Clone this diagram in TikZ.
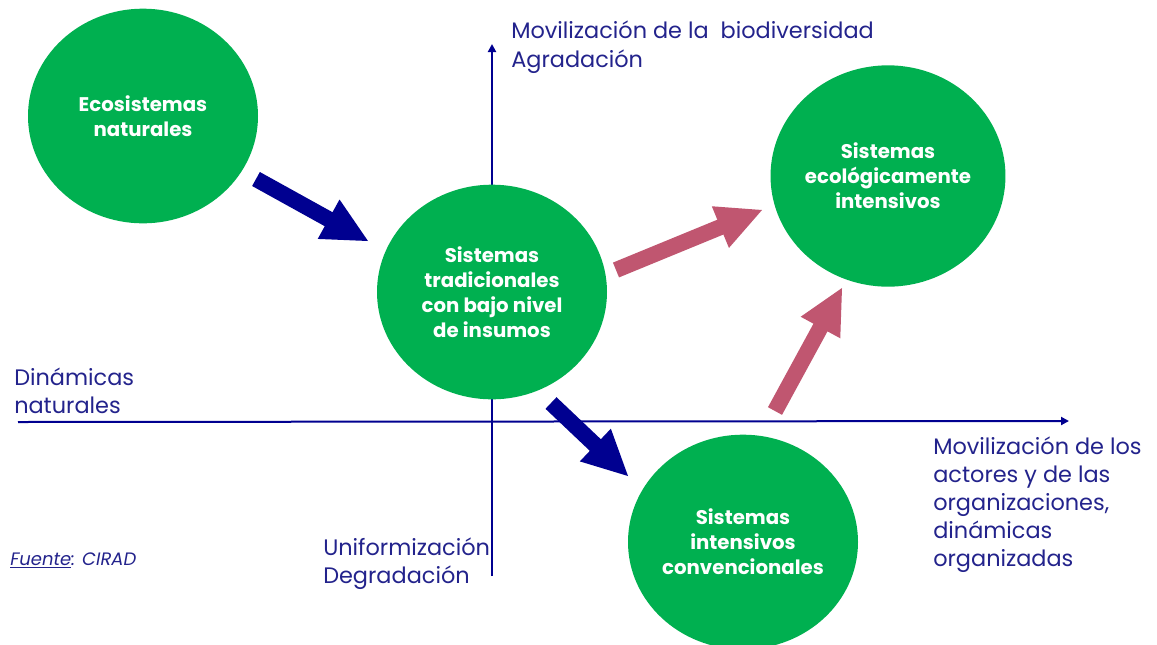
\documentclass[tikz,border=0pt]{standalone}
\usepackage{fontspec}
\setmainfont{Poppins}
\usetikzlibrary{calc,arrows.meta,shapes.geometric}
\definecolor{grn}{RGB}{0,176,80}
\definecolor{navy}{RGB}{0,0,144}
\definecolor{pinkarr}{RGB}{192,86,112}
\definecolor{txtblue}{RGB}{35,35,140}
\newcommand\blockarrow[3]{%
  \path ($(#2)!33.75pt!(#1)$) coordinate (hb);
  \fill[#3] ($(#1)!6pt!90:(#2)$) -- ($(hb)!6pt!90:(#2)$) -- ($(hb)!16.9pt!90:(#2)$) -- (#2)
    -- ($(hb)!16.9pt!-90:(#2)$) -- ($(hb)!6pt!-90:(#2)$) -- ($(#1)!6pt!-90:(#2)$) -- cycle;}
\begin{document}
\begin{tikzpicture}[x=0.75pt,y=-0.75pt,
  blob/.style={ellipse, fill=grn, text=white, font=\bfseries\fontsize{14.8}{18.75}\selectfont,
    align=center, inner sep=0pt, minimum width=172.5pt, minimum height=161pt},
  lbl/.style={text=txtblue, font=\fontsize{16.8}{21}\selectfont, inner sep=0pt, anchor=base west},
  axis/.style={draw=navy, line width=1.5pt, -{Triangle[length=6pt,width=6pt]}}]
\useasboundingbox (0,0) rectangle (1157,644);
\clip (0,0) rectangle (1157,644);
\fill[white] (0,0) rectangle (1157,644);
% axes
\coordinate (vb) at (492,576);
\coordinate (vt) at (492,44);
\coordinate (hl) at (18,422);
\coordinate (hr) at (1069,421);
\draw[axis] (vb) -- (vt);
\draw[axis] (hl) -- (hr);
% circles
\node[blob] (eco) at (143,116) {Ecosistemas\\naturales};
\node[blob] (trad) at (492,292) {Sistemas\\tradicionales\\con bajo nivel\\de insumos};
\node[blob, minimum width=168pt, minimum height=166pt] (ecol) at (888,176) {Sistemas\\ecológicamente\\intensivos};
\node[blob] (conv) at (743,542) {Sistemas\\intensivos\\convencionales};
% block arrows
\coordinate (a1s) at (256,179); \coordinate (a1e) at (368,241);
\coordinate (a2s) at (551,403); \coordinate (a2e) at (628,476);
\coordinate (p1s) at (616,270); \coordinate (p1e) at (762,210);
\coordinate (p2s) at (775,411); \coordinate (p2e) at (842,288);
\blockarrow{a1s}{a1e}{navy}
\blockarrow{a2s}{a2e}{navy}
\blockarrow{p1s}{p1e}{pinkarr}
\blockarrow{p2s}{p2e}{pinkarr}
% labels
\node[lbl] (t1) at (511,38) {Movilización de la\ \ biodiversidad};
\node[lbl] (t2) at (511,67) {Agradación};
\node[lbl] (d1) at (14,385) {Dinámicas};
\node[lbl] (d2) at (14,413) {naturales};
\node[lbl] (m1) at (933,454) {Movilización de los};
\node[lbl] (m2) at (933,482) {actores y de las};
\node[lbl] (m3) at (933,510) {organizaciones,};
\node[lbl] (m4) at (933,538) {dinámicas};
\node[lbl] (m5) at (933,566) {organizadas};
\node[lbl] (u1) at (323,555) {Uniformización};
\node[lbl] (u2) at (323,583) {Degradación};
\node[lbl, font=\itshape\fontsize{13.5}{16}\selectfont] (src) at (10,565) {\underline{Fuente}: CIRAD};
\end{tikzpicture}
\end{document}
